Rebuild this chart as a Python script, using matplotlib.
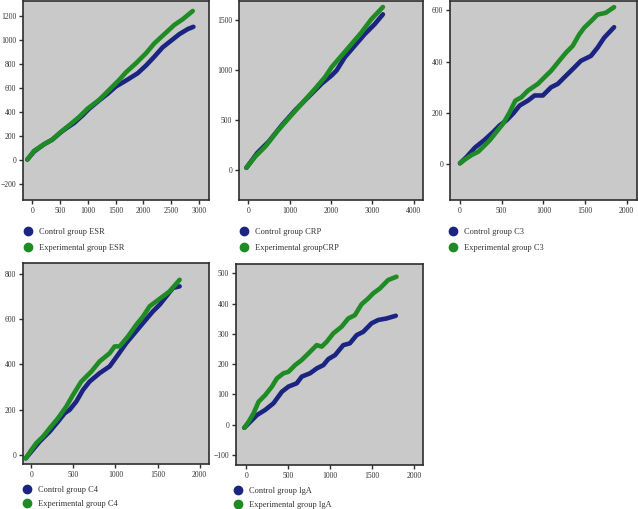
import matplotlib
matplotlib.use("Agg")
import matplotlib.pyplot as plt
from matplotlib.lines import Line2D

plt.rcParams['font.family'] = ['Liberation Serif', 'DejaVu Serif']

BLUE = '#1b2480'
GREEN = '#1f8b24'
BG = '#c9c9c9'
SPINE = '#2e2e2e'

# ---- ESR ----
esr_ctrl_x = [-90, 30, 211, 361, 512, 602, 753, 904, 1024, 1205, 1356, 1506, 1687, 1898, 2048, 2199, 2349, 2500, 2651, 2801, 2904]
esr_ctrl_y = [4, 70, 131, 170, 230, 261, 308, 371, 427, 496, 551, 612, 661, 722, 786, 860, 938, 993, 1048, 1090, 1109]
esr_exp_x = [-90, 30, 211, 361, 512, 663, 843, 994, 1205, 1386, 1566, 1687, 1867, 2048, 2199, 2380, 2560, 2711, 2892]
esr_exp_y = [4, 76, 131, 170, 233, 289, 358, 427, 501, 584, 667, 730, 805, 888, 971, 1048, 1125, 1172, 1241]

# ---- CRP ----
crp_ctrl_x = [-48, 216, 496, 816, 1136, 1456, 1776, 2016, 2136, 2336, 2576, 2816, 3056, 3256]
crp_ctrl_y = [23, 172, 287, 452, 600, 732, 864, 946, 996, 1128, 1243, 1358, 1457, 1556]
crp_exp_x = [-48, 176, 416, 696, 976, 1296, 1616, 1856, 2016, 2256, 2496, 2736, 2976, 3256]
crp_exp_y = [23, 139, 238, 386, 518, 666, 814, 930, 1029, 1144, 1259, 1375, 1507, 1629]

# ---- C3 ----
c3_ctrl_x = [0, 80, 179, 298, 398, 477, 557, 636, 716, 815, 895, 994, 1093, 1173, 1272, 1372, 1451, 1571, 1650, 1730, 1849]
c3_ctrl_y = [4, 29, 65, 96, 126, 152, 171, 197, 229, 248, 268, 268, 300, 313, 345, 377, 403, 422, 454, 493, 534]
c3_exp_x = [0, 60, 139, 219, 278, 358, 437, 517, 596, 664, 736, 815, 934, 1014, 1093, 1173, 1272, 1352, 1431, 1491, 1571, 1650, 1749, 1849]
c3_exp_y = [4, 19, 36, 49, 68, 94, 126, 158, 203, 248, 261, 287, 313, 339, 364, 396, 435, 461, 506, 532, 557, 583, 590, 612]

# ---- C4 ----
c4_ctrl_x = [-67, 0, 99, 218, 317, 396, 455, 535, 614, 693, 812, 931, 1030, 1129, 1228, 1327, 1446, 1525, 1604, 1683, 1762]
c4_ctrl_y = [-15, 15, 59, 103, 147, 184, 199, 236, 287, 324, 361, 391, 442, 494, 538, 582, 634, 663, 700, 737, 744]
c4_exp_x = [-67, 0, 59, 139, 218, 317, 416, 495, 594, 713, 812, 931, 990, 1049, 1148, 1248, 1327, 1406, 1485, 1564, 1643, 1762]
c4_exp_y = [-15, 22, 52, 81, 118, 162, 214, 265, 324, 368, 413, 449, 479, 479, 523, 575, 611, 656, 678, 700, 722, 773]

# ---- IgA ----
iga_ctrl_x = [-24, 48, 127, 226, 325, 425, 504, 603, 663, 762, 841, 921, 980, 1060, 1159, 1238, 1318, 1397, 1496, 1575, 1675, 1786]
iga_ctrl_y = [-10, 10, 32, 49, 71, 109, 126, 137, 159, 170, 186, 197, 217, 230, 263, 269, 296, 307, 335, 346, 351, 360]
iga_exp_x = [-24, 28, 87, 147, 226, 306, 365, 444, 504, 583, 663, 762, 841, 901, 960, 1040, 1139, 1218, 1297, 1377, 1456, 1516, 1595, 1694, 1794]
iga_exp_y = [-10, 10, 38, 76, 98, 126, 153, 170, 175, 197, 214, 241, 263, 258, 274, 302, 324, 351, 362, 398, 417, 434, 450, 478, 489]

labels_ctrl = ['Control group ESR', 'Control group CRP', 'Control group C3', 'Control group C4', 'Control group lgA']
labels_exp = ['Experimental group ESR', 'Experimental groupCRP', 'Experimental group C3', 'Experimental group C4', 'Experimental group lgA']

xticks = [[0, 500, 1000, 1500, 2000, 2500, 3000], [0, 1000, 2000, 3000, 4000],
          [0, 500, 1000, 1500, 2000], [0, 500, 1000, 1500, 2000], [0, 500, 1000, 1500, 2000]]
yticks = [[-200, 0, 200, 400, 600, 800, 1000, 1200], [0, 500, 1000, 1500],
          [0, 200, 400, 600], [0, 200, 400, 600, 800], [-100, 0, 100, 200, 300, 400, 500]]

series = [
    (esr_ctrl_x, esr_ctrl_y, esr_exp_x, esr_exp_y),
    (crp_ctrl_x, crp_ctrl_y, crp_exp_x, crp_exp_y),
    (c3_ctrl_x, c3_ctrl_y, c3_exp_x, c3_exp_y),
    (c4_ctrl_x, c4_ctrl_y, c4_exp_x, c4_exp_y),
    (iga_ctrl_x, iga_ctrl_y, iga_exp_x, iga_exp_y),
]

W, H = 638, 509
# axes boxes in pixels: left, top, right, bottom
boxes = [(23, 1, 209, 200), (239, 1, 423, 200), (450, 1, 637, 200),
         (23, 263, 209, 464), (236, 264, 423, 465)]
xlims = [(-168, 3185), (-226, 4226), (-120, 2124), (-99, 2111), (-123, 2111)]
ylims = [(-333, 1324), (-298, 1689), (-139, 636), (-40, 847), (-133, 531)]
legend_pos = [(24, 228), (240, 228), (449, 228), (23, 486), (234, 487)]
legend_spacing = [0.95, 0.95, 0.95, 0.7, 0.7]

fig = plt.figure(figsize=(W / 100, H / 100), dpi=100)

for i, (cx, cy, ex, ey) in enumerate(series):
    l, t, r, b = boxes[i]
    ax = fig.add_axes([l / W, 1 - b / H, (r - l) / W, (b - t) / H])
    ax.set_facecolor(BG)
    ax.plot(cx, cy, color=BLUE, lw=3.3, solid_capstyle='round', solid_joinstyle='round', zorder=3)
    ax.plot(ex, ey, color=GREEN, lw=3.3, solid_capstyle='round', solid_joinstyle='round', zorder=4)
    ax.set_xlim(*xlims[i])
    ax.set_ylim(*ylims[i])
    ax.set_xticks(xticks[i])
    ax.set_yticks(yticks[i])
    ax.tick_params(labelsize=5.5, length=3, width=1, color=SPINE, pad=2, labelcolor='#333333')
    for s in ax.spines.values():
        s.set_color(SPINE)
        s.set_linewidth(1.2)
    handles = [Line2D([], [], ls='none', marker='o', markersize=6, color=BLUE),
               Line2D([], [], ls='none', marker='o', markersize=6, color=GREEN)]
    lx, ly = legend_pos[i]
    fig.legend(handles, [labels_ctrl[i], labels_exp[i]], loc='upper left',
               bbox_to_anchor=(lx / W, 1 - ly / H), bbox_transform=fig.transFigure,
               frameon=False, fontsize=6, handlelength=1.0, handletextpad=0.8,
               labelspacing=legend_spacing[i], borderpad=0, borderaxespad=0,
               labelcolor='#333333')

fig.savefig('out.png', dpi=100)
